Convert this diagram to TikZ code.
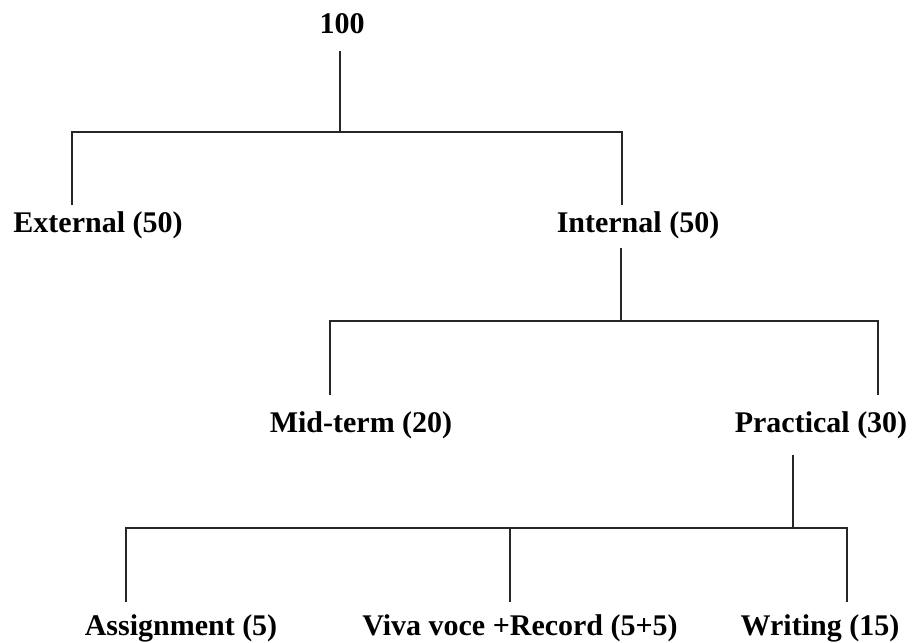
\documentclass[tikz,border=0pt]{standalone}
\usepackage{fontspec}
\setmainfont{Liberation Serif}
\usepackage{tikz}

\begin{document}
\begin{tikzpicture}[x=0.75pt, y=-0.75pt,
        lbl/.style={font=\bfseries\fontsize{22.5}{26}\selectfont, anchor=base, inner sep=0pt},
        link/.style={line width=0.8pt, black!85}]
        \useasboundingbox (0,0) rectangle (915,643);
        % labels
        \node[lbl] (root) at (342,33) {100};
        \node[lbl] (ext) at (98,232) {External (50)};
        \node[lbl] (int) at (638,232) {Internal (50)};
        \node[lbl] (mid) at (361,432) {Mid-term (20)};
        \node[lbl] (prac) at (821,432) {Practical (30)};
        \node[lbl] (assign) at (181,635) {Assignment (5)};
        \node[lbl] (viva) at (520,635) {Viva voce +Record (5+5)};
        \node[lbl] (writ) at (820,635) {Writing (15)};
        % level 1
        \coordinate (r0) at (340,51);
        \coordinate (r1) at (340,132);
        \coordinate (ja) at (72,132);
        \coordinate (jb) at (622,132);
        \coordinate (ea) at (72,205);
        \coordinate (eb) at (622,205);
        \draw[link] (r0) -- (r1);
        \draw[link] (ea) -- (ja) -- (jb) -- (eb);
        % level 2
        \coordinate (i0) at (621,248);
        \coordinate (i1) at (621,321);
        \coordinate (ka) at (330,321);
        \coordinate (kb) at (878,321);
        \coordinate (fa) at (330,395);
        \coordinate (fb) at (878,395);
        \draw[link] (i0) -- (i1);
        \draw[link] (fa) -- (ka) -- (kb) -- (fb);
        % level 3
        \coordinate (p0) at (793,455);
        \coordinate (p1) at (793,528);
        \coordinate (ma) at (126,528);
        \coordinate (mb) at (510,528);
        \coordinate (mc) at (847,528);
        \draw[link] (p0) -- (p1);
        \draw[link] (126,602) -- (ma) -- (mc) -- (847,602);
        \draw[link] (mb) -- (510,602);
\end{tikzpicture}
\end{document}
